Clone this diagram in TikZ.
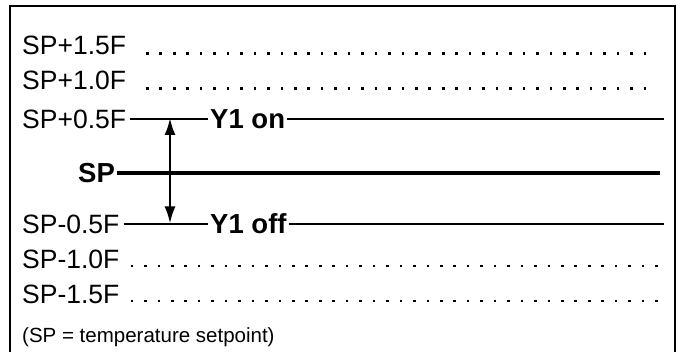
\documentclass[tikz,border=0pt]{standalone}
\usepackage{fontspec}
\setmainfont{Liberation Sans}
\usetikzlibrary{arrows.meta}

\begin{document}
\begin{tikzpicture}[x=1pt, y=-1pt,
  lvl/.style={inner xsep=3pt, inner ysep=0pt, font=\fontsize{26.5}{28}\selectfont},
  tag/.style={inner xsep=2pt, inner ysep=0pt, font=\fontsize{27.5}{30}\selectfont\bfseries},
  note/.style={inner sep=0pt, font=\fontsize{20.5}{23}\selectfont},
  dotrow/.style={line width=2.6pt, dash pattern=on 2.6pt off 10.85pt},
  band/.style={line width=2.6pt},
  setline/.style={line width=3.8pt},
  >={Latex[length=17pt, width=11pt]}]
\useasboundingbox (0,0) rectangle (677,352);
% frame (bottom edge runs off the picture)
\draw[line width=2.4pt] (10,352) -- (10,6) -- (675,6) -- (675,352);

% dotted levels
\node[lvl, anchor=base west, inner xsep=0pt] (p15) at (22,55) {SP+1.5F};
\node[lvl, anchor=base west, inner xsep=0pt] (p10) at (22,90) {SP+1.0F};
\node[lvl, anchor=base west, inner xsep=0pt] (m10) at (22,268.5) {SP-1.0F};
\node[lvl, anchor=base west, inner xsep=0pt] (m15) at (22,303.5) {SP-1.5F};
\draw[dotrow] (146,53.7) -- (646.3,53.7);
\draw[dotrow] (146,88.7) -- (646.3,88.7);
\draw[dotrow] (130.6,266.2) -- (657.8,266.2);
\draw[dotrow] (130.6,301.2) -- (657.8,301.2);

% switching levels
\node[lvl, anchor=west, inner xsep=0pt] (p05) at (22,119) {SP+0.5F};
\node[tag, anchor=west] (on) at (208,119) {Y1 on};
\coordinate (onend) at (664,119);
\draw[band] ([xshift=4pt]p05.east) -- (on.west);
\draw[band] (on.east) -- (onend);

\node[tag, anchor=west, inner xsep=0pt] (sp) at (78,173) {SP};
\coordinate (spend) at (660,173);
\draw[setline] ([xshift=2pt]sp.east) -- (spend);

\node[lvl, anchor=west, inner xsep=0pt] (m05) at (22,224) {SP-0.5F};
\node[tag, anchor=west] (off) at (208,224) {Y1 off};
\coordinate (offend) at (664,224);
\draw[band] ([xshift=4pt]m05.east) -- (off.west);
\draw[band] (off.east) -- (offend);

% hysteresis band
\coordinate (top) at (170,118);
\coordinate (bot) at (170,223.5);
\draw[<->, line width=2.3pt] (top) -- (bot);

\node[note, anchor=base west] (key) at (22,342) {(SP = temperature setpoint)};
\end{tikzpicture}
\end{document}
